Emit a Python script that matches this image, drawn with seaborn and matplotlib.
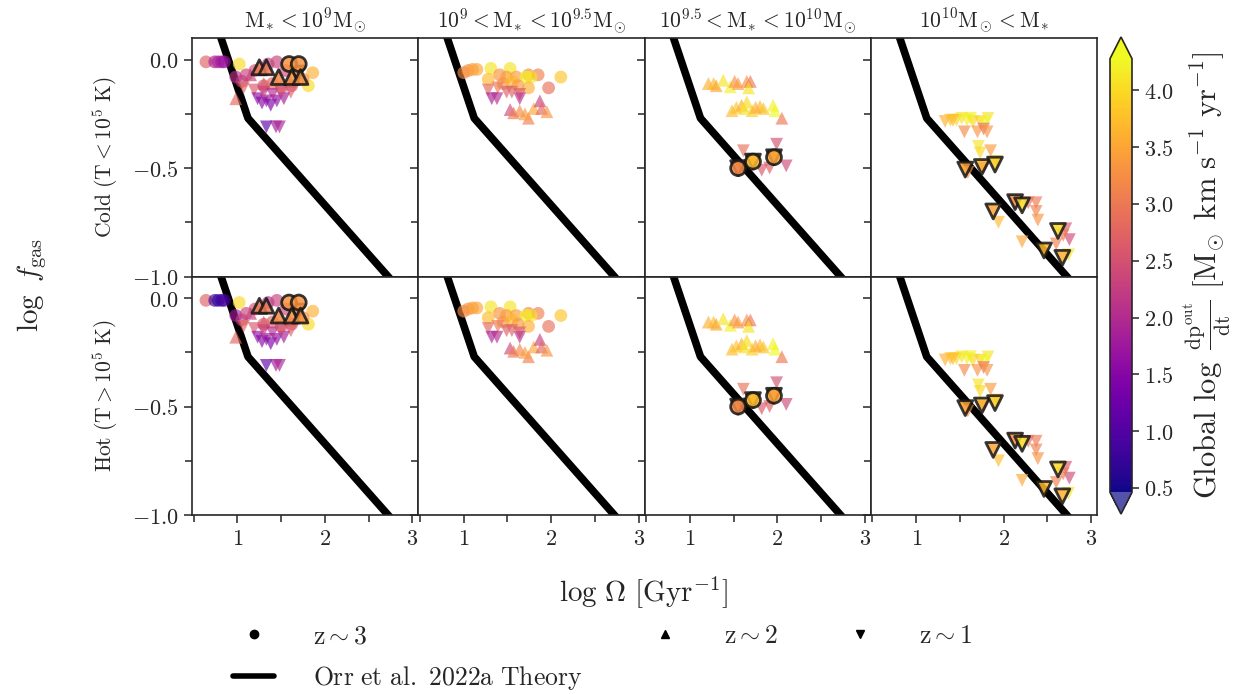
import numpy as np
import matplotlib
matplotlib.use("Agg")
import matplotlib.pyplot as plt
import seaborn as sns
from matplotlib.ticker import MultipleLocator, FuncFormatter
from matplotlib.lines import Line2D
from matplotlib.colors import Normalize
from matplotlib.cm import ScalarMappable

# ---------------------------------------------------------------- data
MASS_BIN_TITLES = [
    r"$\mathrm{M}_{\!*} < 10^9\mathrm{M}_{\!\odot}$",
    r"$10^9 < \mathrm{M}_{\!*} < 10^{9.5}\mathrm{M}_{\!\odot}$",
    r"$10^{9.5} < \mathrm{M}_{\!*} < 10^{10}\mathrm{M}_{\!\odot}$",
    r"$10^{10}\mathrm{M}_{\!\odot} < \mathrm{M}_{\!*}$",
]
PHASE_LABELS = [r"$\mathrm{Cold}\ (\mathrm{T} < 10^5\ \mathrm{K})$",
                r"$\mathrm{Hot}\ (\mathrm{T} > 10^5\ \mathrm{K})$"]

# Orr et al. 2022a theory curve (log Omega, log f_gas)
THEORY_LOG_OMEGA = [0.75, 1.12, 2.80]
THEORY_LOG_FGAS = [0.174, -0.27, -1.036]

# --- bin 1: M* < 1e9
B1_Z3_X = [0.64, 0.74, 0.78, 0.82, 0.85, 1.02, 0.98, 1.05, 1.10, 1.20, 1.35, 1.45, 1.55, 1.30, 1.40, 1.50, 1.62, 1.86, 1.81, 1.75]
B1_Z3_Y = [-0.01, -0.01, -0.01, -0.01, -0.01, -0.02, -0.08, -0.10, -0.07, -0.05, -0.02, -0.01, -0.05, -0.12, -0.11, -0.13, -0.12, -0.06, -0.12, -0.09]
B1_Z3_C_COLD = [2.7, 1.9, 1.9, 1.8, 1.7, 4.0, 2.1, 2.2, 2.3, 2.5, 2.2, 2.3, 2.4, 2.6, 2.8, 2.7, 2.5, 3.6, 4.0, 3.2]
B1_Z3_C_HOT = [2.7, 0.8, 0.7, 0.8, 0.9, 4.0, 1.8, 2.2, 2.3, 2.5, 2.0, 2.3, 2.4, 2.6, 2.8, 2.7, 2.5, 3.6, 4.0, 3.2]
B1_Z2_X = [0.98, 1.15, 1.30, 1.60]
B1_Z2_Y = [-0.18, -0.07, -0.11, -0.10]
B1_Z2_C = [2.8, 2.3, 2.6, 2.5]
B1_Z1_X = [1.07, 1.19, 1.61, 1.23, 1.28, 1.33, 1.38, 1.45, 1.53, 1.30, 1.40, 1.33, 1.44, 1.48, 1.50]
B1_Z1_Y = [-0.13, -0.14, -0.15, -0.18, -0.20, -0.19, -0.21, -0.19, -0.18, -0.15, -0.16, -0.31, -0.31, -0.31, -0.15]
B1_Z1_C = [2.8, 2.6, 2.7, 1.6, 1.5, 1.7, 1.4, 1.6, 1.8, 2.3, 2.0, 1.1, 1.8, 1.9, 2.5]
B1_Z3_OUT_X = [1.59, 1.70]
B1_Z3_OUT_Y = [-0.02, -0.02]
B1_Z3_OUT_C = [3.3, 3.3]
B1_Z2_OUT_X = [1.25, 1.33, 1.47, 1.62, 1.72]
B1_Z2_OUT_Y = [-0.035, -0.035, -0.08, -0.08, -0.08]
B1_Z2_OUT_C = [3.0, 3.0, 3.2, 3.3, 3.3]
B1_Z1_OUT_X = [1.68]
B1_Z1_OUT_Y = [-0.06]
B1_Z1_OUT_C = [3.2]

# --- bin 2: 1e9 < M* < 10^9.5
B2_Z3_X = [1.00, 1.05, 1.10, 1.15, 1.31, 1.53, 1.28, 1.41, 1.49, 1.60, 1.74, 1.85, 1.71, 1.77, 2.11, 1.97, 1.74, 1.45, 1.55, 1.62]
B2_Z3_Y = [-0.06, -0.05, -0.045, -0.045, -0.04, -0.04, -0.09, -0.07, -0.08, -0.08, -0.07, -0.07, -0.08, -0.08, -0.08, -0.13, -0.13, -0.11, -0.10, -0.12]
B2_Z3_C = [3.2, 3.3, 3.4, 3.5, 4.1, 4.1, 3.7, 3.3, 3.4, 3.4, 3.2, 3.1, 4.2, 4.1, 3.8, 2.9, 3.6, 3.3, 3.7, 3.4]
B2_Z2_X = [1.53, 1.57, 1.64, 1.74, 1.80, 1.87, 1.89, 1.95, 1.70]
B2_Z2_Y = [-0.23, -0.245, -0.236, -0.27, -0.225, -0.19, -0.225, -0.24, -0.25]
B2_Z2_C = [2.4, 3.0, 3.2, 3.1, 3.5, 2.3, 2.8, 3.3, 3.4]
B2_Z1_X = [1.28, 1.49, 1.64, 1.39, 1.32, 1.38, 1.64, 1.55]
B2_Z1_Y = [-0.14, -0.15, -0.16, -0.13, -0.18, -0.18, -0.18, -0.15]
B2_Z1_C = [2.8, 2.7, 2.6, 3.0, 1.9, 2.0, 2.1, 2.7]

# --- bin 3: 10^9.5 < M* < 1e10
B3_Z2_X = [1.21, 1.27, 1.30, 1.38, 1.46, 1.51, 1.55, 1.65, 1.69, 1.67,
           1.48, 1.53, 1.59, 1.65, 1.71, 1.80, 1.84, 1.95, 1.97, 1.62, 1.75, 2.05]
B3_Z2_Y = [-0.11, -0.11, -0.12, -0.095, -0.125, -0.10, -0.11, -0.10, -0.10, -0.13,
           -0.235, -0.22, -0.21, -0.195, -0.235, -0.215, -0.225, -0.21, -0.235, -0.225, -0.22, -0.27]
B3_Z2_C = [3.6, 3.7, 3.5, 4.1, 4.2, 3.3, 3.4, 3.3, 3.0, 4.1,
           3.7, 3.8, 3.6, 4.0, 3.9, 3.7, 3.8, 4.2, 4.3, 4.1, 3.6, 3.0]
B3_Z1_X = [1.61, 1.82, 1.91, 1.99, 2.10, 1.95]
B3_Z1_Y = [-0.42, -0.51, -0.50, -0.39, -0.49, -0.45]
B3_Z1_C = [2.9, 2.6, 2.7, 2.5, 2.4, 2.8]
B3_OUT_X = [1.55, 1.72, 1.96]
B3_OUT_Y = [-0.50, -0.47, -0.45]
B3_Z3_OUT_C = [3.2, 3.7, 3.5]
B3_Z1_OUT_C = [3.1, 3.5, 3.4]

# --- bin 4: M* > 1e10
B4_Z1_X = [1.33, 1.39, 1.46, 1.52, 1.58, 1.65, 1.73, 1.82, 1.42, 1.62, 1.78,
           1.55, 1.70, 1.77, 1.81, 1.71, 1.73, 1.85, 1.92, 1.77, 1.59,
           2.37, 2.37, 2.39, 1.94, 2.21, 2.60, 2.71, 2.75, 2.74, 2.68, 2.28]
B4_Z1_Y = [-0.285, -0.279, -0.279, -0.271, -0.279, -0.286, -0.286, -0.271, -0.28, -0.27, -0.29,
           -0.333, -0.333, -0.32, -0.333, -0.40, -0.43, -0.42, -0.47, -0.50, -0.52,
           -0.66, -0.70, -0.74, -0.75, -0.84, -0.85, -0.78, -0.83, -0.90, -0.81, -0.66]
B4_Z1_C = [3.6, 3.8, 4.0, 4.1, 4.2, 4.0, 3.9, 4.1, 3.7, 4.2, 4.3,
           3.2, 3.3, 2.9, 3.3, 4.1, 4.0, 3.4, 3.8, 2.4, 3.3,
           3.0, 3.1, 3.3, 3.7, 3.5, 3.1, 2.6, 2.4, 4.1, 3.0, 2.9]
B4_Z1_OUT_X = [1.56, 1.75, 1.90, 2.13, 2.21, 1.88, 2.62, 2.46, 2.67]
B4_Z1_OUT_Y = [-0.507, -0.495, -0.484, -0.657, -0.672, -0.70, -0.79, -0.88, -0.914]
B4_Z1_OUT_C = [3.5, 3.7, 3.9, 3.2, 4.0, 3.5, 4.0, 3.7, 3.6]

VMIN, VMAX = 0.46, 4.28
COLORBAR_TICKS = [0.5, 1.0, 1.5, 2.0, 2.5, 3.0, 3.5, 4.0]

# ---------------------------------------------------------------- style
sns.set_style("ticks")
plt.rcParams["mathtext.fontset"] = "cm"
plt.rcParams["font.family"] = ["DejaVu Serif"]
plt.rcParams["axes.linewidth"] = 1.2

fig, axes = plt.subplots(2, 4, sharex=True, sharey=True, figsize=(12.45, 6.94), dpi=100)
fig.subplots_adjust(left=192 / 1245, right=1097 / 1245, top=1 - 38 / 694,
                    bottom=1 - 515 / 694, wspace=0, hspace=0)


def draw_points(ax, x, y, c, marker, outlined=False):
    if outlined:
        kw = dict(s=115, edgecolor="#151515", linewidth=2.0, alpha=0.85, zorder=4)
    else:
        kw = dict(s=85, edgecolor="none", linewidth=0, alpha=0.65, zorder=3)
    sns.scatterplot(x=x, y=y, hue=c, palette="plasma", hue_norm=(VMIN, VMAX),
                    marker=marker, legend=False, ax=ax, **kw)


math_fmt_y = FuncFormatter(lambda v, p: rf"${v:.1f}$")
math_fmt_x = FuncFormatter(lambda v, p: rf"${v:.0f}$")

for row in range(2):
    for col in range(4):
        ax = axes[row, col]
        sns.lineplot(x=THEORY_LOG_OMEGA, y=THEORY_LOG_FGAS, color="black",
                     linewidth=5.5, ax=ax, zorder=2)

        if col == 0:
            draw_points(ax, B1_Z3_X, B1_Z3_Y, B1_Z3_C_COLD if row == 0 else B1_Z3_C_HOT, "o")
            draw_points(ax, B1_Z2_X, B1_Z2_Y, B1_Z2_C, "^")
            draw_points(ax, B1_Z1_X, B1_Z1_Y, B1_Z1_C, "v")
            draw_points(ax, B1_Z1_OUT_X, B1_Z1_OUT_Y, B1_Z1_OUT_C, "v", True)
            draw_points(ax, B1_Z3_OUT_X, B1_Z3_OUT_Y, B1_Z3_OUT_C, "o", True)
            draw_points(ax, B1_Z2_OUT_X, B1_Z2_OUT_Y, B1_Z2_OUT_C, "^", True)
        elif col == 1:
            draw_points(ax, B2_Z3_X, B2_Z3_Y, B2_Z3_C, "o")
            draw_points(ax, B2_Z1_X, B2_Z1_Y, B2_Z1_C, "v")
            draw_points(ax, B2_Z2_X, B2_Z2_Y, B2_Z2_C, "^")
        elif col == 2:
            draw_points(ax, B3_Z2_X, B3_Z2_Y, B3_Z2_C, "^")
            draw_points(ax, B3_Z1_X, B3_Z1_Y, B3_Z1_C, "v")
            draw_points(ax, B3_OUT_X, B3_OUT_Y, B3_Z1_OUT_C, "v", True)
            draw_points(ax, B3_OUT_X, B3_OUT_Y, B3_Z3_OUT_C, "o", True)
        else:
            draw_points(ax, B4_Z1_X, B4_Z1_Y, B4_Z1_C, "v")
            draw_points(ax, B4_Z1_OUT_X, B4_Z1_OUT_Y, B4_Z1_OUT_C, "v", True)

        ax.set_xlim(0.48, 3.066)
        ax.set_ylim(-1.0, 0.1)
        ax.xaxis.set_major_locator(MultipleLocator(1))
        ax.xaxis.set_minor_locator(MultipleLocator(0.5))
        ax.yaxis.set_major_locator(MultipleLocator(0.5))
        ax.yaxis.set_minor_locator(MultipleLocator(0.25))
        ax.xaxis.set_major_formatter(math_fmt_x)
        ax.yaxis.set_major_formatter(math_fmt_y)
        ax.tick_params(which="major", direction="out", length=6, width=1.1, labelsize=16)
        ax.tick_params(which="minor", direction="out", length=5, width=1.1)
        if row == 0:
            ax.tick_params(axis="x", which="both", bottom=False)
            ax.set_title(MASS_BIN_TITLES[col], fontsize=15.5, pad=7)
        ax.set_xlabel("")
        ax.set_ylabel("")
        for sp in ax.spines.values():
            sp.set_visible(True)
            sp.set_linewidth(1.2)
    axes[row, 0].set_ylabel(PHASE_LABELS[row], fontsize=15.5, labelpad=9)

fig.text(644 / 1245, 1 - 593 / 694, r"$\log\,\Omega\ [\mathrm{Gyr^{-1}}]$",
         ha="center", va="center", fontsize=21)
fig.text(32 / 1245, 1 - 285 / 694, r"$\log\ f_{\mathrm{gas}}$",
         ha="center", va="center", rotation=90, fontsize=21)

# colour bar
base = plt.get_cmap("plasma")
cmap = base.with_extremes(under=(*base(0.0)[:3], 0.7), over=base(1.0))
sm = ScalarMappable(norm=Normalize(VMIN, VMAX), cmap=cmap)
cax = fig.add_axes([1110 / 1245, 1 - 514 / 694, 22 / 1245, 477 / 694])
cb = fig.colorbar(sm, cax=cax, extend="both")
cb.set_ticks(COLORBAR_TICKS)
cb.ax.yaxis.set_major_formatter(math_fmt_y)
cb.ax.tick_params(labelsize=16, length=5, width=1.1)
cb.outline.set_linewidth(1.2)
cb.set_label(r"$\mathrm{Global}\ \log\ \frac{\mathrm{dp^{out}}}{\mathrm{dt}}\ "
             r"[\mathrm{M}_{\!\odot}\ \mathrm{km\ s^{-1}\ yr^{-1}}]$",
             fontsize=22, labelpad=6)

# legend
handles = [
    Line2D([], [], marker="o", color="black", linestyle="none", markersize=6),
    Line2D([], [], color="black", linewidth=4),
    Line2D([], [], marker="^", color="black", linestyle="none", markersize=6),
    Line2D([], [], marker="v", color="black", linestyle="none", markersize=6),
]
labels = [r"$\mathrm{z \sim 3}$", r"$\mathrm{Orr\ et\ al.\ 2022a\ Theory}$",
          r"$\mathrm{z \sim 2}$", r"$\mathrm{z \sim 1}$"]
fig.legend(handles, labels, ncol=3, loc="center", bbox_to_anchor=(0.484, 0.0526),
           frameon=False, fontsize=18.5, handlelength=1.6, handletextpad=1.5,
           columnspacing=2.4, labelspacing=0.6)

fig.savefig("out.png", dpi=100)
